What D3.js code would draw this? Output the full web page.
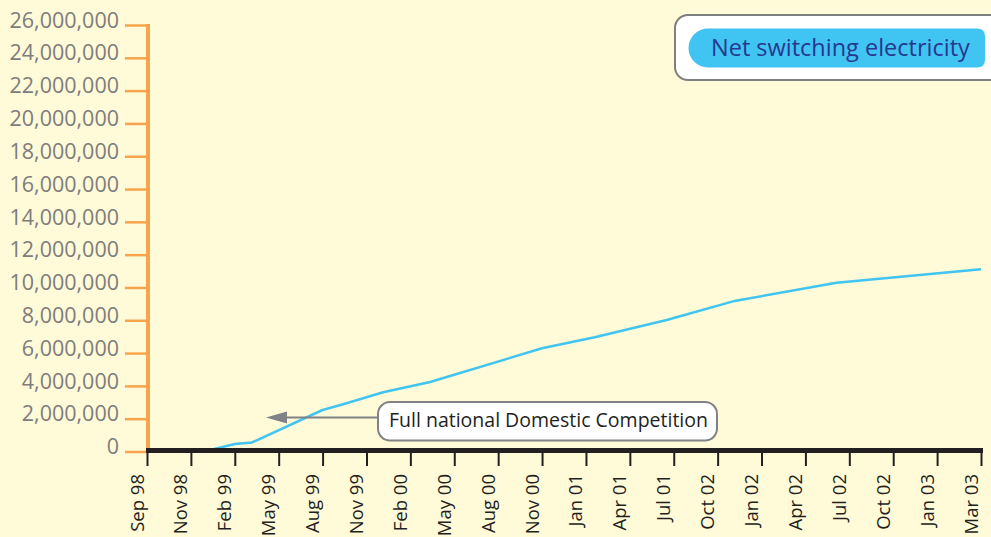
<!DOCTYPE html>
<html>
<head>
<meta charset="utf-8">
<script src="https://cdn.jsdelivr.net/npm/d3@7"></script>
<style>
  html, body { margin: 0; padding: 0; background: #fffad7; }
  svg { display: block; }
</style>
</head>
<body>
<script>
// ---- data ----
const xLabels = ["Sep 98","Nov 98","Feb 99","May 99","Aug 99","Nov 99","Feb 00","May 00","Aug 00","Nov 00","Jan 01","Apr 01","Jul 01","Oct 02","Jan 02","Apr 02","Jul 02","Oct 02","Jan 03","Mar 03"];
const yTicks = [0, 2000000, 4000000, 6000000, 8000000, 10000000, 12000000, 14000000, 16000000, 18000000, 20000000, 22000000, 24000000, 26000000];
// position along the category axis (index, fractional between labels) and value
const seriesPos = [0, 1.3, 2.0, 2.39, 4.0, 4.47, 5.38, 6.45, 9.0, 10.2, 11.84, 13.39, 15.71, 19];
const seriesValues = [0, 0, 460000, 550000, 2530000, 2880000, 3610000, 4240000, 6290000, 6960000, 8020000, 9180000, 10290000, 11110000];
const legendLabel = "Net switching electricity";
const annotationLabel = "Full national Domestic Competition";

// ---- drawing ----
const W = 991, H = 537;
const svg = d3.select("body").append("svg").attr("width", W).attr("height", H);
svg.append("rect").attr("width", W).attr("height", H).attr("fill", "#fffad7");

const x = d3.scaleLinear().domain([0, xLabels.length - 1]).range([147, 981]);
const y = d3.scaleLinear().domain([0, 26000000]).range([451.5, 25]);
const fmt = d3.format(",");

// series line (drawn under the x axis)
const pts = seriesPos.map((p, i) => [p, seriesValues[i]]);
svg.append("path")
  .datum(pts)
  .attr("fill", "none")
  .attr("stroke", "#40c4f1")
  .attr("stroke-width", 2.5)
  .attr("stroke-linejoin", "round")
  .attr("d", d3.line().x(d => x(d[0])).y(d => y(d[1])));

// y axis
const yAxis = svg.append("g").attr("transform", "translate(148,0)")
  .call(d3.axisLeft(y).tickValues(yTicks).tickFormat(fmt).tickSize(23).tickPadding(6));
yAxis.select(".domain").attr("stroke", "#f7a44c").attr("stroke-width", 4)
  .attr("d", `M0,${y(26000000) - 1}V${y(0)}`);
yAxis.selectAll(".tick line").attr("stroke", "#f7a44c").attr("stroke-width", 2.5);
yAxis.selectAll(".tick text")
  .style("fill", "#7d7d7d")
  .attr("font-family", "'Open Sans', sans-serif")
  .attr("font-size", 21.5)
  .attr("dy", "0.1em");

// x axis
const xAxis = svg.append("g").attr("transform", "translate(0,453)")
  .call(d3.axisBottom(x).tickValues(d3.range(xLabels.length)).tickFormat(i => xLabels[i]).tickSize(13));
xAxis.select(".domain").remove();
xAxis.selectAll(".tick line").attr("stroke", "#231f20").attr("stroke-width", 2);
xAxis.selectAll(".tick text")
  .style("fill", "#231f20")
  .attr("font-family", "'Open Sans', sans-serif")
  .attr("font-size", 18.5)
  .attr("text-anchor", "end")
  .attr("transform", "rotate(-90)")
  .attr("x", -21)
  .attr("y", -4)
  .attr("dy", "0");
svg.append("line")
  .attr("x1", x(0) - 1).attr("x2", x(xLabels.length - 1) + 2)
  .attr("y1", 450.5).attr("y2", 450.5)
  .attr("stroke", "#231f20").attr("stroke-width", 5);

// legend
const lg = svg.append("g");
lg.append("rect").attr("x", 675).attr("y", 15).attr("width", 330).attr("height", 65)
  .attr("rx", 13).attr("fill", "#ffffff").attr("stroke", "#7f7f7f").attr("stroke-width", 2);
lg.append("path")
  .attr("d", "M708,28.5 H977 Q985,28.5 985,36.5 V59.5 Q985,67.5 977,67.5 H708 A19.5,19.5 0 0 1 708,28.5 Z")
  .attr("fill", "#40c4f1");
lg.append("text").attr("x", 711).attr("y", 55.5)
  .attr("fill", "#27388f")
  .attr("font-family", "'Open Sans', sans-serif")
  .attr("font-size", 23.5)
  .text(legendLabel);

// annotation with arrow
const an = svg.append("g");
an.append("line").attr("x1", 284).attr("x2", 379).attr("y1", 417.5).attr("y2", 417.5)
  .attr("stroke", "#808285").attr("stroke-width", 2);
an.append("path").attr("d", "M266,417.5 L287,411.5 L287,423.5 Z").attr("fill", "#808285");
an.append("rect").attr("x", 378).attr("y", 402).attr("width", 339).attr("height", 38.5)
  .attr("rx", 12).attr("fill", "#ffffff").attr("stroke", "#808285").attr("stroke-width", 2);
an.append("text").attr("x", 389).attr("y", 427)
  .attr("fill", "#231f20")
  .attr("font-family", "'Open Sans', sans-serif")
  .attr("font-size", 19.5)
  .text(annotationLabel);
</script>
</body>
</html>
